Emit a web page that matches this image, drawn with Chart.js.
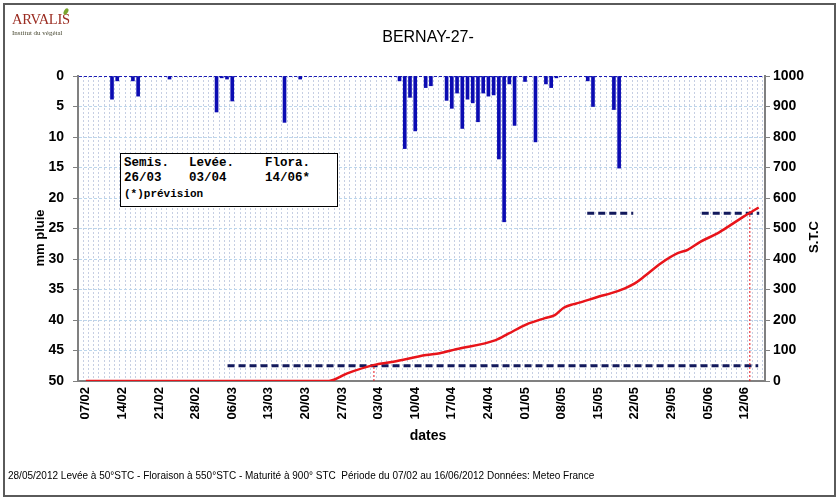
<!DOCTYPE html>
<html>
<head>
<meta charset="utf-8">
<script src="https://cdn.jsdelivr.net/npm/chart.js@4"></script>
<style>
html, body { margin: 0; padding: 0; background: #fff; }
#wrap { position: relative; width: 838px; height: 499px; overflow: hidden; font-family: "Liberation Sans", Arial, sans-serif; }
#c { position: absolute; left: 0; top: 0; }
#frame { position: absolute; left: 3px; top: 3px; width: 829px; height: 490px; border: 2px solid #5a5a5a; pointer-events: none; }
#logo { position: absolute; left: 12px; top: 10px; font-family: "Liberation Serif", "DejaVu Serif", serif; }
#logo .arv { font-size: 14.5px; color: #9a2b20; letter-spacing: -0.3px; }
#logo .leaf { position: absolute; left: 52px; top: -2px; width: 4px; height: 7px; background: #7aa52e; border-radius: 50%; transform: rotate(30deg); }
#logo .inst { font-size: 7px; color: #4b4b35; margin-top: 1px; }
#title { position: absolute; left: 0; width: 856px; top: 28px; text-align: center; font-size: 16px; color: #000; }
#legendBox { position: absolute; left: 120px; top: 153px; width: 216px; height: 52px; border: 1px solid #000; background: #fff; font-family: "Liberation Mono", "Courier New", monospace; font-weight: bold; color: #000; }
#legendBox span { position: absolute; font-size: 12.5px; white-space: pre; }
#legendBox .small { font-size: 11px; }
#foot { position: absolute; left: 8px; top: 470px; font-size: 10px; color: #000; white-space: pre; }
</style>
</head>
<body>
<div id="wrap">
  <canvas id="c" width="838" height="499"></canvas>
  <div id="logo"><span class="arv">ARVALIS</span><span class="leaf"></span><div class="inst">Institut du végétal</div></div>
  <div id="title">BERNAY-27-</div>
  <div id="legendBox">
    <span style="left:3px;top:2px">Semis.</span>
    <span style="left:68px;top:2px">Levée.</span>
    <span style="left:144px;top:2px">Flora.</span>
    <span style="left:3px;top:17px">26/03</span>
    <span style="left:68px;top:17px">03/04</span>
    <span style="left:144px;top:17px">14/06*</span>
    <span class="small" style="left:3px;top:34px">(*)prévision</span>
  </div>
  <div id="foot">28/05/2012 Levée à 50°STC - Floraison à 550°STC - Maturité à 900° STC  Période du 07/02 au 16/06/2012 Données: Meteo France</div>
  <div id="frame"></div>
</div>
<script>
// tick labels, one per week, starting 07/02 (day 0)
const tickLabels = ['07/02', '14/02', '21/02', '28/02', '06/03', '13/03', '20/03', '27/03', '03/04', '10/04',
    '17/04', '24/04', '01/05', '08/05', '15/05', '22/05', '29/05', '05/06', '12/06'];

// rain (mm), day index from 07/02
const rainDays = [5, 6, 9, 10, 16, 25, 26, 27, 28, 38, 41, 60, 61, 62, 63, 65, 66, 69, 70, 71,
    72, 73, 74, 75, 76, 77, 78, 79, 80, 81, 82, 84, 86, 88, 89, 90, 96, 97, 101, 102];
const rainMm = [3.8, 0.8, 0.8, 3.3, 0.5, 5.9, 0.3, 0.5, 4.1, 7.6, 0.5, 0.8, 11.9, 3.5, 9.0, 1.9, 1.6, 4.0, 5.3, 2.8,
    8.6, 3.8, 4.4, 7.5, 2.8, 3.3, 3.1, 13.6, 23.9, 1.3, 8.1, 0.9, 10.8, 1.3, 1.9, 0.3, 0.8, 5.0, 5.5, 15.1];

// sum of temperatures (S.T.C)
const stcDays = [0, 46.5, 50, 55, 58.8, 65.1, 67.7, 70.8, 78.4, 80.8, 84.2, 87.8, 89.7, 91.4, 93.3,
    94.2, 98, 100.5, 103.1, 105, 106.9, 110, 113.2, 115.1, 117.6, 120.8, 123.3, 125.8, 128.7];
const stcVals = [0, 0, 25, 52, 63, 85, 91, 104, 134, 155, 185, 206, 216, 240, 252,
    256, 276, 288, 304, 320, 344, 386, 419, 430, 457, 484, 511, 539, 569];

// stage thresholds
const seuilLevee = 50;
const seuilFlora = 550;
const leveeSeg = [27.1, 128.6];
const floraSegA = [95.9, 104.7];
const floraSegB = [117.8, 128.8];
const leveeDay = 55.1;
const floraDay = 127;

const navy = '#12195c';
const red = '#e8141a';

function seg(range, val) {
    return [{ x: range[0], y: val }, { x: range[1], y: val }];
}

const titles = {
    id: 'titles',
    afterDraw(chart) {
        const ctx = chart.ctx;
        ctx.save();
        ctx.fillStyle = '#000';
        ctx.textAlign = 'center';
        ctx.textBaseline = 'middle';
        ctx.font = 'bold 14px "Liberation Sans", Arial, sans-serif';
        ctx.fillText('dates', 428, 436);
        ctx.font = 'bold 13px "Liberation Sans", Arial, sans-serif';
        ctx.translate(40, 238);
        ctx.rotate(-Math.PI / 2);
        ctx.fillText('mm pluie', 0, 0);
        ctx.restore();
        ctx.save();
        ctx.fillStyle = '#000';
        ctx.textAlign = 'center';
        ctx.textBaseline = 'middle';
        ctx.font = 'bold 13px "Liberation Sans", Arial, sans-serif';
        ctx.translate(814, 237);
        ctx.rotate(-Math.PI / 2);
        ctx.fillText('S.T.C', 0, 0);
        ctx.restore();
    }
};

const tickFont = { family: '"Liberation Sans", Arial, sans-serif', weight: 'bold', size: 14 };

new Chart(document.getElementById('c'), {
    type: 'bar',
    data: {
        datasets: [
            {
                type: 'line', order: 0, yAxisID: 'y2',
                data: stcDays.map((d, i) => ({ x: d, y: stcVals[i] })),
                borderColor: red, borderWidth: 2.5, pointRadius: 0,
                cubicInterpolationMode: 'monotone'
            },
            {
                type: 'line', order: 1, yAxisID: 'y2',
                data: [{ x: leveeDay, y: 0 }, { x: leveeDay, y: seuilLevee }],
                borderColor: red, borderWidth: 1, borderDash: [2, 2], pointRadius: 0
            },
            {
                type: 'line', order: 2, yAxisID: 'y2',
                data: [{ x: floraDay, y: 0 }, { x: floraDay, y: seuilFlora + 20 }],
                borderColor: red, borderWidth: 1, borderDash: [2, 2], pointRadius: 0
            },
            {
                type: 'line', order: 3, yAxisID: 'y2', data: seg(leveeSeg, seuilLevee),
                borderColor: navy, borderWidth: 3, borderDash: [7, 4], pointRadius: 0
            },
            {
                type: 'line', order: 4, yAxisID: 'y2', data: seg(floraSegA, seuilFlora),
                borderColor: navy, borderWidth: 3, borderDash: [7, 4], pointRadius: 0
            },
            {
                type: 'line', order: 5, yAxisID: 'y2', data: seg(floraSegB, seuilFlora),
                borderColor: navy, borderWidth: 3, borderDash: [7, 4], pointRadius: 0
            },
            {
                type: 'bar', order: 10, yAxisID: 'y',
                data: rainDays.map((d, i) => ({ x: d, y: rainMm[i] })),
                backgroundColor: '#0c0cb2', barThickness: 3
            }
        ]
    },
    options: {
        responsive: false,
        animation: false,
        layout: { padding: { top: 76, left: 0, right: 0, bottom: 0 } },
        plugins: { legend: { display: false }, tooltip: { enabled: false } },
        scales: {
            x: {
                type: 'linear', position: 'bottom', min: -1, max: 129.4,
                afterFit: (s) => { s.height = 118; },
                ticks: {
                    stepSize: 1, autoSkip: false, maxRotation: 90, minRotation: 90, padding: 6,
                    color: '#000', font: { family: tickFont.family, weight: 'bold', size: 13 },
                    includeBounds: false,
                    callback: (v) => (v >= 0 && v % 7 === 0 && tickLabels[v / 7]) ? tickLabels[v / 7] : ''
                },
                grid: { color: '#c6cfe3', lineWidth: 1, drawTicks: false },
                border: { color: '#808080', width: 2, dash: [2, 2] }
            },
            y: {
                type: 'linear', position: 'left', reverse: true, min: 0, max: 50,
                afterFit: (s) => { s.width = 78; },
                ticks: { stepSize: 5, padding: 9, color: '#000', font: tickFont, callback: (v) => String(v) },
                grid: {
                    color: (c) => (c.tick && c.tick.value === 0) ? '#1c1cb4' : '#bcd6ec',
                    tickColor: '#808080', tickLength: 5, lineWidth: 1
                },
                border: { color: '#808080', width: 2, dash: [3, 2] }
            },
            y2: {
                type: 'linear', position: 'right', min: 0, max: 1000,
                afterFit: (s) => { s.width = 73; },
                ticks: { stepSize: 100, padding: 3, color: '#000', font: tickFont, callback: (v) => String(v) },
                grid: { drawOnChartArea: false, tickColor: '#808080', tickLength: 5 },
                border: { color: '#808080', width: 2 }
            }
        }
    },
    plugins: [titles]
});
</script>
</body>
</html>
